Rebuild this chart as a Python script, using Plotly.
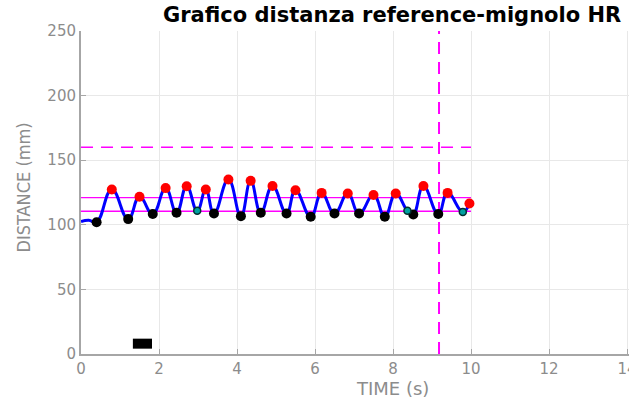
import plotly.graph_objects as go

# ---- data ----
line_t = [0.0, 0.2, 0.40, 0.79, 1.21, 1.50, 1.84, 2.17, 2.45, 2.71, 2.98, 3.20, 3.41,
          3.78, 4.10, 4.35, 4.61, 4.91, 5.27, 5.50, 5.89, 6.17, 6.50, 6.84, 7.13,
          7.50, 7.79, 8.07, 8.37, 8.52, 8.78, 9.16, 9.40, 9.79, 9.96]
line_v = [102.5, 103.5, 102.0, 127.3, 104.4, 121.7, 108.3, 128.4, 109.3, 129.9, 110.8, 127.3, 108.7,
          135.0, 106.7, 134.0, 109.3, 130.0, 108.7, 126.8, 106.2, 124.7, 108.7, 124.2, 108.7,
          123.0, 106.2, 124.2, 110.8, 108.0, 130.0, 108.3, 124.7, 110.0, 116.5]

peak_t = [0.79, 1.50, 2.17, 2.71, 3.20, 3.78, 4.35, 4.91, 5.50, 6.17, 6.84, 7.50, 8.07, 8.78, 9.40, 9.96]
peak_v = [127.3, 121.7, 128.4, 129.9, 127.3, 135.0, 134.0, 130.0, 126.8, 124.7, 124.2, 123.0, 124.2, 130.0, 124.7, 116.5]

valley_t = [0.40, 1.21, 1.84, 2.45, 3.41, 4.10, 4.61, 5.27, 5.89, 6.50, 7.13, 7.79, 8.52, 9.16]
valley_v = [102.0, 104.4, 108.3, 109.3, 108.7, 106.7, 109.3, 108.7, 106.2, 108.7, 108.7, 106.2, 108.0, 108.3]

teal_t = [2.98, 8.37, 9.79]
teal_v = [110.8, 110.8, 110.0]

thr_t = [0.0, 10.0]
thr_upper = 121.0
thr_lower = 110.5
thr_dashed = 160.0
vline_t = 9.18
bar_t = [1.33, 1.82]
bar_v = 8.0

x_ticks = [0, 2, 4, 6, 8, 10, 12, 14]
y_ticks = [0, 50, 100, 150, 200, 250]

W, H = 629, 398
L, R, T, B = 81, 0, 31, 44
px_per_unit = 39.0
x_max = (W - L - R) / px_per_unit

MAG = "#ff00ff"
fig = go.Figure()

# thresholds
fig.add_trace(go.Scatter(x=thr_t, y=[thr_upper] * 2, mode="lines",
                         line=dict(color=MAG, width=1.4), hoverinfo="skip"))
fig.add_trace(go.Scatter(x=thr_t, y=[thr_lower] * 2, mode="lines",
                         line=dict(color=MAG, width=1.4), hoverinfo="skip"))
fig.add_trace(go.Scatter(x=thr_t, y=[thr_dashed] * 2, mode="lines",
                         line=dict(color=MAG, width=1.5, dash="12px,8px"), hoverinfo="skip"))
fig.add_trace(go.Scatter(x=[vline_t, vline_t], y=[0, 250], mode="lines",
                         line=dict(color=MAG, width=2, dash="12px,8px"), hoverinfo="skip"))

# signal
fig.add_trace(go.Scatter(x=line_t, y=line_v, mode="lines",
                         line=dict(color="#0000ff", width=3, shape="spline", smoothing=1.3)))

fig.add_trace(go.Scatter(x=peak_t, y=peak_v, mode="markers",
                         marker=dict(color="#ff0000", size=10)))
fig.add_trace(go.Scatter(x=valley_t, y=valley_v, mode="markers",
                         marker=dict(color="#000000", size=10)))
fig.add_trace(go.Scatter(x=teal_t, y=teal_v, mode="markers",
                         marker=dict(color="#00a0a0", size=7, line=dict(color="#003030", width=1.5))))

# black bar
fig.add_trace(go.Scatter(x=bar_t, y=[bar_v] * 2, mode="lines",
                         line=dict(color="#000000", width=10)))

GRAY = "#8c8c8c"
fig.update_layout(
    width=W, height=H,
    margin=dict(l=L, r=R, t=T, b=B, autoexpand=False),
    paper_bgcolor="white", plot_bgcolor="white",
    showlegend=False,
    font=dict(family="DejaVu Sans", color=GRAY),
    xaxis=dict(range=[0, x_max], tickvals=x_ticks, ticktext=[str(v) for v in x_ticks],
               showgrid=True, gridcolor="#e8e8e8", gridwidth=1,
               showline=True, linecolor="#a6a6a6", linewidth=2,
               ticks="inside", ticklen=5, tickcolor="#a6a6a6",
               ticklabeloverflow="allow", automargin=False,
               tickfont=dict(size=15, color=GRAY), zeroline=False),
    yaxis=dict(range=[0, 250], tickvals=y_ticks, ticktext=[str(v) for v in y_ticks],
               showgrid=True, gridcolor="#e8e8e8", gridwidth=1,
               showline=True, linecolor="#a6a6a6", linewidth=2,
               ticks="inside", ticklen=5, tickcolor="#a6a6a6", automargin=False,
               tickfont=dict(size=15, color=GRAY), zeroline=False),
)

cx = (392 - L) / (W - L - R)
fig.add_annotation(text="<b>Grafico distanza reference-mignolo HR</b>", xref="paper", yref="paper",
                   x=cx, y=1, yshift=16, xanchor="center", yanchor="middle", showarrow=False,
                   font=dict(family="DejaVu Sans", size=21, color="#000000"))
fig.add_annotation(text="TIME (s)", xref="paper", yref="paper",
                   x=cx, y=0, yshift=-34, xanchor="center", yanchor="middle", showarrow=False,
                   font=dict(family="DejaVu Sans", size=18, color=GRAY))
fig.add_annotation(text="DISTANCE (mm)", xref="paper", yref="paper",
                   x=0, xshift=-58, y=0.5, yshift=5, xanchor="center", yanchor="middle", textangle=-90,
                   showarrow=False,
                   font=dict(family="Liberation Sans Narrow, DejaVu Sans Condensed, sans-serif", size=18, color=GRAY))

fig.write_html("out.html")
